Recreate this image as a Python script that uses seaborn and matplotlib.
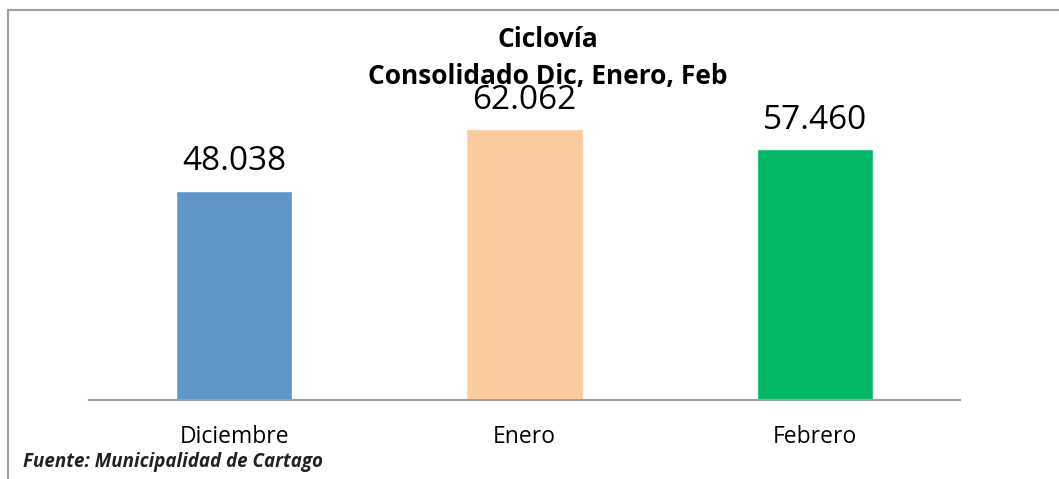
import matplotlib
matplotlib.use("Agg")
import matplotlib.pyplot as plt
from matplotlib.lines import Line2D
import pandas as pd
import seaborn as sns

# data
months = ["Diciembre", "Enero", "Febrero"]
visits = [48038, 62062, 57460]
colours = ["#6196CB", "#FACB9F", "#00B964"]
value_labels = ["48.038", "62.062", "57.460"]

df = pd.DataFrame({"mes": months, "total": visits})

sns.set_theme(style="white")
plt.rcParams["font.family"] = ["Open Sans", "DejaVu Sans"]
plt.rcParams["text.color"] = "black"
plt.rcParams["xtick.color"] = "black"

fig = plt.figure(figsize=(10.59, 4.79), dpi=100)
ax = fig.add_axes([0.084, 0.165, 0.8225, 0.71])

sns.barplot(data=df, x="mes", y="total", hue="mes", palette=colours,
            width=0.40, legend=False, ax=ax, saturation=1)

for i, (v, lab) in enumerate(zip(visits, value_labels)):
    ax.text(i, v + 2800, lab, ha="center", va="bottom", fontsize=24, color="black")

ax.set_xlim(-0.5, 2.5)
ax.set_ylim(0, 78000)
ax.set_xlabel("")
ax.set_ylabel("")
ax.set_yticks([])
ax.tick_params(axis="x", length=0, labelsize=16.5, labelcolor="black", pad=18)
for s in ["top", "right", "left"]:
    ax.spines[s].set_visible(False)
ax.spines["bottom"].set_color("#A0A0A0")
ax.spines["bottom"].set_linewidth(1.5)

fig.text(0.517, 0.918, "Ciclovía", ha="center", va="center",
         fontsize=19, fontweight="bold", color="black")
fig.text(0.517, 0.84, "Consolidado Dic, Enero, Feb", ha="center", va="center",
         fontsize=19, fontweight="bold", color="black")
fig.text(0.022, 0.035, "Fuente: Municipalidad de Cartago", ha="left", va="center",
         fontsize=13.5, fontweight="bold", style="italic", color="#222222")

# chart frame (cut off at right and bottom like the source)
fig.add_artist(Line2D([0.0075, 0.0075], [0, 0.979], transform=fig.transFigure,
                      color="#A0A0A0", lw=1.5))
fig.add_artist(Line2D([0.0075, 1.0], [0.979, 0.979], transform=fig.transFigure,
                      color="#A0A0A0", lw=1.5))

fig.savefig("out.png", dpi=100, facecolor="white")
